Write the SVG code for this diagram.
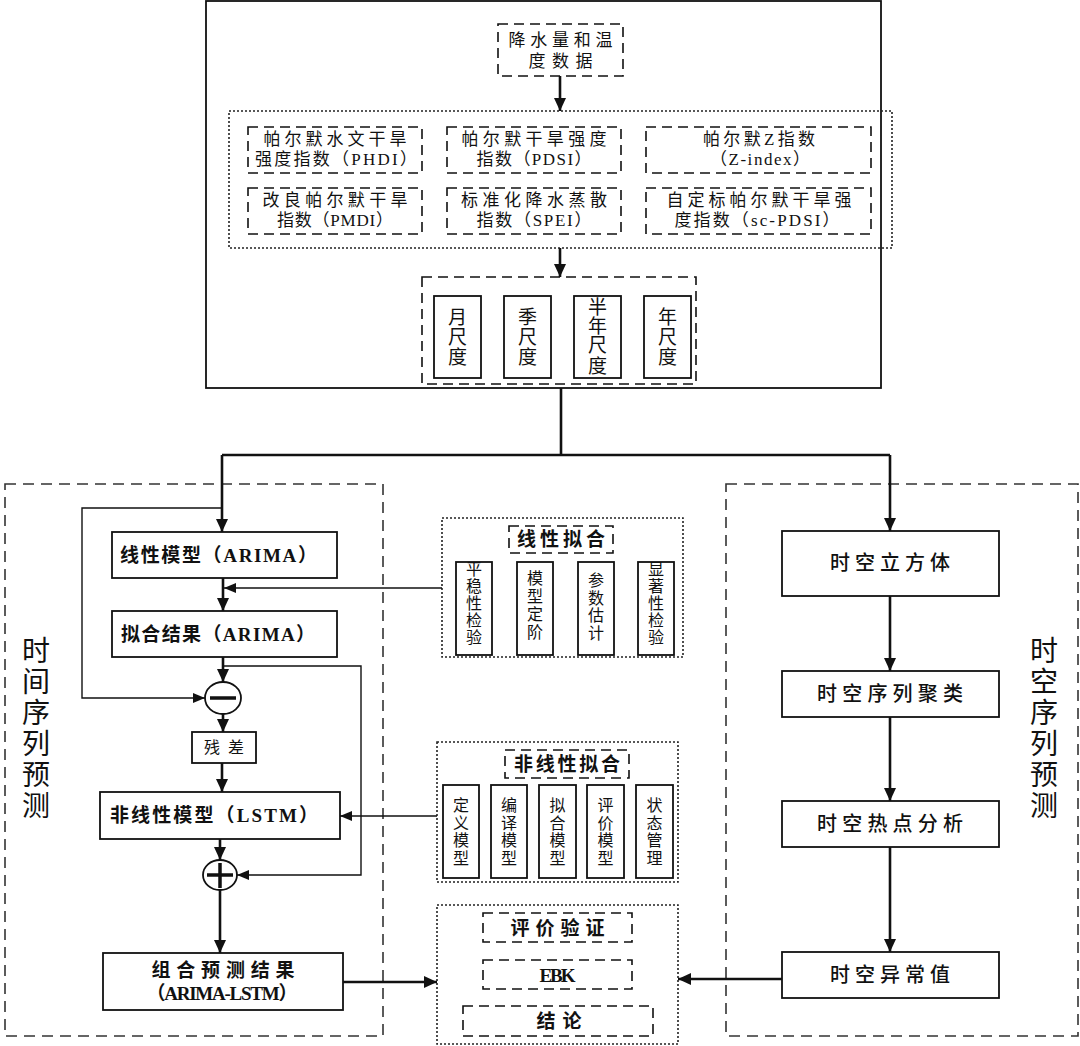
<svg xmlns="http://www.w3.org/2000/svg" width="1080" height="1046" viewBox="0 0 1080 1046">
<defs>
<style>
text{font-family:"Liberation Serif","Noto Sans CJK SC",serif;fill:#111;}
.idx{font-size:17px;}
.big{font-size:28px;}
.main{font-size:19px;font-weight:bold;}
.rt{font-size:20px;font-weight:500;}
.ttl{font-size:19px;font-weight:bold;}
.sm{font-size:16px;}
.sc{font-size:19px;}
.solid{fill:#fff;stroke:#111;stroke-width:1.8;}
.dash{fill:none;stroke:#111;stroke-width:1.6;stroke-dasharray:10 6;}
.dashbig{fill:none;stroke:#333;stroke-width:1.6;stroke-dasharray:11 7;}
.dot{fill:none;stroke:#222;stroke-width:1.6;stroke-dasharray:2 2;}
.thick{fill:none;stroke:#111;stroke-width:2.6;}
.thin{fill:none;stroke:#111;stroke-width:1.4;}
</style>
<marker id="ah" markerUnits="userSpaceOnUse" markerWidth="13" markerHeight="12" refX="13" refY="6" orient="auto"><path d="M0,0 L13,6 L0,12 z" fill="#111"/></marker>
<marker id="ahs" markerUnits="userSpaceOnUse" markerWidth="12" markerHeight="10" refX="12" refY="5" orient="auto"><path d="M0,0 L12,5 L0,10 z" fill="#111"/></marker>
</defs>

<g id="top-frame"><rect x="206" y="1" width="675" height="387" fill="none" stroke="#111" stroke-width="1.8"/></g>

<g id="node-data">
<rect class="dash" x="498" y="24" width="125" height="52"/>
<text class="idx" x="560.5" y="46" text-anchor="middle" textLength="104" lengthAdjust="spacing">降水量和温</text>
<text class="idx" x="560.5" y="67" text-anchor="middle" textLength="64" lengthAdjust="spacing">度数据</text>
</g>

<g id="indices">
<rect class="dot" x="229" y="111" width="663" height="137"/>
<g id="node-phdi"><rect class="dash" x="248" y="127" width="174" height="46"/>
<text class="idx" x="335" y="145" text-anchor="middle" textLength="143" lengthAdjust="spacing">帕尔默水文干旱</text>
<text class="idx" x="336" y="165" text-anchor="middle" textLength="162" lengthAdjust="spacing">强度指数（PHDI）</text></g>
<g id="node-pdsi"><rect class="dash" x="447" y="127" width="174" height="46"/>
<text class="idx" x="534" y="145" text-anchor="middle" textLength="145" lengthAdjust="spacing">帕尔默干旱强度</text>
<text class="idx" x="534" y="165" text-anchor="middle" textLength="115" lengthAdjust="spacing">指数（PDSI）</text></g>
<g id="node-z"><rect class="dash" x="646" y="127" width="225" height="46"/>
<text class="idx" x="759" y="145" text-anchor="middle" textLength="112" lengthAdjust="spacing">帕尔默Z指数</text>
<text class="idx" x="760" y="165" text-anchor="middle" textLength="100" lengthAdjust="spacing">（Z-index）</text></g>
<g id="node-pmdi"><rect class="dash" x="248" y="188" width="174" height="46"/>
<text class="idx" x="335" y="206" text-anchor="middle" textLength="145" lengthAdjust="spacing">改良帕尔默干旱</text>
<text class="idx" x="335" y="226" text-anchor="middle" textLength="116" lengthAdjust="spacing">指数（PMDI）</text></g>
<g id="node-spei"><rect class="dash" x="447" y="188" width="174" height="46"/>
<text class="idx" x="534" y="206" text-anchor="middle" textLength="146" lengthAdjust="spacing">标准化降水蒸散</text>
<text class="idx" x="534" y="226" text-anchor="middle" textLength="115" lengthAdjust="spacing">指数（SPEI）</text></g>
<g id="node-scpdsi"><rect class="dash" x="646" y="188" width="225" height="46"/>
<text class="idx" x="759" y="206" text-anchor="middle" textLength="185" lengthAdjust="spacing">自定标帕尔默干旱强</text>
<text class="idx" x="757" y="226" text-anchor="middle" textLength="165" lengthAdjust="spacing">度指数（sc-PDSI）</text></g>
</g>

<g id="scales">
<rect class="dash" x="422" y="277" width="274" height="107"/>
<g id="node-month"><rect class="solid" x="434" y="296" width="47" height="82"/>
<text class="sc" x="457.5" y="324" text-anchor="middle">月</text>
<text class="sc" x="457.5" y="344" text-anchor="middle">尺</text>
<text class="sc" x="457.5" y="364" text-anchor="middle">度</text></g>
<g id="node-season"><rect class="solid" x="504" y="296" width="47" height="82"/>
<text class="sc" x="527.5" y="324" text-anchor="middle">季</text>
<text class="sc" x="527.5" y="344" text-anchor="middle">尺</text>
<text class="sc" x="527.5" y="364" text-anchor="middle">度</text></g>
<g id="node-half"><rect class="solid" x="574" y="296" width="47" height="82"/>
<text class="sc" x="597.5" y="314" text-anchor="middle">半</text>
<text class="sc" x="597.5" y="333" text-anchor="middle">年</text>
<text class="sc" x="597.5" y="352" text-anchor="middle">尺</text>
<text class="sc" x="597.5" y="373" text-anchor="middle">度</text></g>
<g id="node-year"><rect class="solid" x="644" y="296" width="47" height="82"/>
<text class="sc" x="667.5" y="324" text-anchor="middle">年</text>
<text class="sc" x="667.5" y="344" text-anchor="middle">尺</text>
<text class="sc" x="667.5" y="364" text-anchor="middle">度</text></g>
</g>

<g id="left-frame">
<rect class="dashbig" x="5" y="484" width="378" height="552"/>
<text class="big" x="36" y="661" text-anchor="middle">时</text>
<text class="big" x="36" y="692" text-anchor="middle">间</text>
<text class="big" x="36" y="723" text-anchor="middle">序</text>
<text class="big" x="36" y="754" text-anchor="middle">列</text>
<text class="big" x="36" y="785" text-anchor="middle">预</text>
<text class="big" x="36" y="816" text-anchor="middle">测</text>
</g>

<g id="right-frame">
<rect class="dashbig" x="726" y="484" width="352" height="552"/>
<text class="big" x="1044" y="661" text-anchor="middle">时</text>
<text class="big" x="1044" y="692" text-anchor="middle">空</text>
<text class="big" x="1044" y="723" text-anchor="middle">序</text>
<text class="big" x="1044" y="754" text-anchor="middle">列</text>
<text class="big" x="1044" y="785" text-anchor="middle">预</text>
<text class="big" x="1044" y="816" text-anchor="middle">测</text>
</g>

<g id="node-arima"><rect class="solid" x="112" y="532" width="225" height="46"/>
<text class="main" x="120" y="562" textLength="197" lengthAdjust="spacing">线性模型（ARIMA）</text></g>
<g id="node-fit"><rect class="solid" x="112" y="611" width="225" height="46"/>
<text class="main" x="121" y="641" textLength="194" lengthAdjust="spacing">拟合结果（ARIMA）</text></g>
<g id="node-minus"><ellipse cx="223" cy="698" rx="18" ry="16" fill="#fff" stroke="#111" stroke-width="1.8"/>
<line x1="210" y1="698" x2="236" y2="698" stroke="#111" stroke-width="3.5"/></g>
<g id="node-resid"><rect class="solid" x="192" y="732" width="64" height="31"/>
<text class="sm" x="224" y="753" text-anchor="middle" textLength="40" lengthAdjust="spacing">残差</text></g>
<g id="node-lstm"><rect class="solid" x="100" y="792" width="240" height="47"/>
<text class="main" x="110" y="822" textLength="208" lengthAdjust="spacing">非线性模型（LSTM）</text></g>
<g id="node-plus"><ellipse cx="220" cy="875" rx="17" ry="15" fill="#fff" stroke="#111" stroke-width="1.8"/>
<line x1="207" y1="875" x2="233" y2="875" stroke="#111" stroke-width="3.5"/>
<line x1="220" y1="863" x2="220" y2="888" stroke="#111" stroke-width="3.5"/></g>
<g id="node-combo"><rect class="solid" x="103" y="953" width="240" height="57"/>
<text class="main" x="223" y="977" text-anchor="middle" textLength="143" lengthAdjust="spacing">组合预测结果</text>
<text class="main" x="222" y="1000" text-anchor="middle" textLength="151" lengthAdjust="spacing">（ARIMA-LSTM）</text></g>

<g id="node-linfit">
<rect class="dot" x="442" y="518" width="241" height="139"/>
<rect class="dash" x="509" y="526" width="104" height="27"/>
<text class="ttl" x="561" y="546" text-anchor="middle" textLength="88" lengthAdjust="spacing">线性拟合</text>
<rect class="solid" x="456" y="562" width="36" height="93"/>
<text class="sm" x="474" y="575" text-anchor="middle">平</text>
<text class="sm" x="474" y="592" text-anchor="middle">稳</text>
<text class="sm" x="474" y="609" text-anchor="middle">性</text>
<text class="sm" x="474" y="626" text-anchor="middle">检</text>
<text class="sm" x="474" y="643" text-anchor="middle">验</text>
<rect class="solid" x="517" y="562" width="36" height="93"/>
<text class="sm" x="535" y="584" text-anchor="middle">模</text>
<text class="sm" x="535" y="602" text-anchor="middle">型</text>
<text class="sm" x="535" y="620" text-anchor="middle">定</text>
<text class="sm" x="535" y="638" text-anchor="middle">阶</text>
<rect class="solid" x="578" y="562" width="36" height="93"/>
<text class="sm" x="596" y="586" text-anchor="middle">参</text>
<text class="sm" x="596" y="604" text-anchor="middle">数</text>
<text class="sm" x="596" y="621" text-anchor="middle">估</text>
<text class="sm" x="596" y="639" text-anchor="middle">计</text>
<rect class="solid" x="638" y="562" width="36" height="93"/>
<text class="sm" x="656" y="575" text-anchor="middle">显</text>
<text class="sm" x="656" y="592" text-anchor="middle">著</text>
<text class="sm" x="656" y="609" text-anchor="middle">性</text>
<text class="sm" x="656" y="626" text-anchor="middle">检</text>
<text class="sm" x="656" y="643" text-anchor="middle">验</text>
</g>

<g id="node-nonlinfit">
<rect class="dot" x="437" y="742" width="241" height="140"/>
<rect class="dash" x="505" y="750" width="124" height="28"/>
<text class="ttl" x="567" y="771" text-anchor="middle" textLength="106" lengthAdjust="spacing">非线性拟合</text>
<rect class="solid" x="443" y="785" width="36" height="93"/>
<text class="sm" x="461" y="811" text-anchor="middle">定</text>
<text class="sm" x="461" y="829" text-anchor="middle">义</text>
<text class="sm" x="461" y="846" text-anchor="middle">模</text>
<text class="sm" x="461" y="864" text-anchor="middle">型</text>
<rect class="solid" x="491" y="785" width="36" height="93"/>
<text class="sm" x="509" y="811" text-anchor="middle">编</text>
<text class="sm" x="509" y="829" text-anchor="middle">译</text>
<text class="sm" x="509" y="846" text-anchor="middle">模</text>
<text class="sm" x="509" y="864" text-anchor="middle">型</text>
<rect class="solid" x="539" y="785" width="37" height="93"/>
<text class="sm" x="557.5" y="811" text-anchor="middle">拟</text>
<text class="sm" x="557.5" y="829" text-anchor="middle">合</text>
<text class="sm" x="557.5" y="846" text-anchor="middle">模</text>
<text class="sm" x="557.5" y="864" text-anchor="middle">型</text>
<rect class="solid" x="587" y="785" width="37" height="93"/>
<text class="sm" x="605.5" y="811" text-anchor="middle">评</text>
<text class="sm" x="605.5" y="829" text-anchor="middle">价</text>
<text class="sm" x="605.5" y="846" text-anchor="middle">模</text>
<text class="sm" x="605.5" y="864" text-anchor="middle">型</text>
<rect class="solid" x="636" y="785" width="37" height="93"/>
<text class="sm" x="654.5" y="811" text-anchor="middle">状</text>
<text class="sm" x="654.5" y="829" text-anchor="middle">态</text>
<text class="sm" x="654.5" y="846" text-anchor="middle">管</text>
<text class="sm" x="654.5" y="864" text-anchor="middle">理</text>
</g>

<g id="node-eval">
<rect class="dot" x="437" y="905" width="241" height="139"/>
<rect class="dash" x="483" y="913" width="149" height="29"/>
<text class="ttl" x="557.5" y="935" text-anchor="middle" textLength="94" lengthAdjust="spacing">评价验证</text>
<rect class="dash" x="483" y="960" width="149" height="29"/>
<text class="ttl" x="557.5" y="982" text-anchor="middle" textLength="36" lengthAdjust="spacing" font-weight="normal">EBK</text>
<rect class="dash" x="463" y="1006" width="190" height="30"/>
<text class="ttl" x="559" y="1028" text-anchor="middle" textLength="45" lengthAdjust="spacing">结论</text>
</g>

<g id="node-cube"><rect class="solid" x="782" y="531" width="217" height="65"/>
<text class="rt" x="890" y="570" text-anchor="middle" textLength="120" lengthAdjust="spacing">时空立方体</text></g>
<g id="node-cluster"><rect class="solid" x="782" y="671" width="217" height="46"/>
<text class="rt" x="890" y="701" text-anchor="middle" textLength="146" lengthAdjust="spacing">时空序列聚类</text></g>
<g id="node-hotspot"><rect class="solid" x="782" y="801" width="217" height="46"/>
<text class="rt" x="890" y="831" text-anchor="middle" textLength="146" lengthAdjust="spacing">时空热点分析</text></g>
<g id="node-outlier"><rect class="solid" x="782" y="952" width="217" height="46"/>
<text class="rt" x="890" y="982" text-anchor="middle" textLength="120" lengthAdjust="spacing">时空异常值</text></g>

<g id="connectors">
<path class="thick" d="M560,76 V111" marker-end="url(#ah)"/>
<path class="thick" d="M560,248 V277" marker-end="url(#ah)"/>
<path class="thick" d="M561,388 V455"/>
<path class="thick" d="M222,455 H890"/>
<path class="thick" d="M222,455 V532" marker-end="url(#ah)"/>
<path class="thick" d="M890,455 V531" marker-end="url(#ah)"/>
<path class="thick" d="M223,578 V611" marker-end="url(#ah)"/>
<path class="thin" d="M442,588 H224" marker-end="url(#ahs)"/>
<path class="thick" d="M223,657 V682" marker-end="url(#ah)"/>
<path class="thin" d="M222,508 H82 V698 H205" marker-end="url(#ahs)"/>
<path class="thick" d="M223,714 V732" marker-end="url(#ah)"/>
<path class="thick" d="M222,763 V792" marker-end="url(#ah)"/>
<path class="thin" d="M437,816 H340" marker-end="url(#ahs)"/>
<path class="thick" d="M220,839 V860" marker-end="url(#ah)"/>
<path class="thin" d="M223,666 H361 V875 H237" marker-end="url(#ahs)"/>
<path class="thick" d="M220,890 V953" marker-end="url(#ah)"/>
<path class="thick" d="M343,982 H437" marker-end="url(#ah)"/>
<path class="thick" d="M782,979 H678" marker-end="url(#ah)"/>
<path class="thick" d="M890,596 V671" marker-end="url(#ah)"/>
<path class="thick" d="M890,717 V801" marker-end="url(#ah)"/>
<path class="thick" d="M890,847 V952" marker-end="url(#ah)"/>
</g>
</svg>
